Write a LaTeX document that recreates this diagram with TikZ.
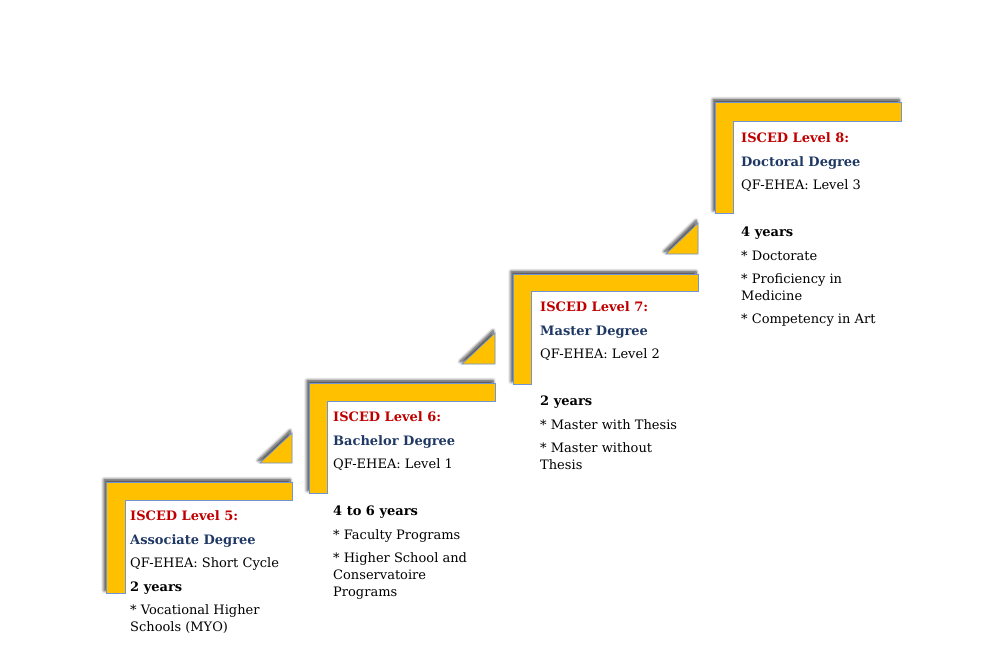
\documentclass[tikz,border=0pt]{standalone}
\usepackage{fontspec}
\setmainfont{DejaVu Serif}
\usetikzlibrary{shadows.blur}
\definecolor{gold}{HTML}{FFC000}
\definecolor{edgeblue}{HTML}{7094D4}
\definecolor{isred}{HTML}{C00000}
\definecolor{degblue}{HTML}{1F3864}
\tikzset{
  stair/.style={fill=gold, draw=edgeblue, line width=0.8pt,
    blur shadow={shadow xshift=-2pt, shadow yshift=2.5pt, shadow blur radius=3pt, shadow opacity=75, shadow blur steps=8}},
  txt/.style={anchor=base west, inner sep=0pt, font=\fontsize{13}{15}\selectfont, text=black},
  lvl/.style={txt, font=\fontsize{13}{15}\selectfont\bfseries, text=isred},
  deg/.style={txt, font=\fontsize{13}{15}\selectfont\bfseries, text=degblue},
  yrs/.style={txt, font=\fontsize{13}{15}\selectfont\bfseries},
}
\begin{document}
\begin{tikzpicture}[x=1pt,y=-1pt]
\useasboundingbox (0,0) rectangle (1007,646);
% stairs
\path[stair] (106,482) -- (292,482) -- (292,500) -- (125,500) -- (125,593) -- (106,593) -- cycle;
\path[stair] (309,383) -- (495,383) -- (495,401) -- (327,401) -- (327,493) -- (309,493) -- cycle;
\path[stair] (513,274) -- (698,274) -- (698,291) -- (531,291) -- (531,384) -- (513,384) -- cycle;
\path[stair] (715,102) -- (901,102) -- (901,121) -- (733,121) -- (733,213) -- (715,213) -- cycle;
% triangles
\path[stair] (260,463) -- (292,463) -- (292,433) -- cycle;
\path[stair] (462,364) -- (495,364) -- (495,333) -- cycle;
\path[stair] (666,254) -- (698,254) -- (698,223) -- cycle;
% level 5
\node[lvl] (l5a) at (130,520) {ISCED Level 5:};
\node[deg] (l5b) at (130,544) {Associate Degree};
\node[txt] (l5c) at (130,567) {QF-EHEA: Short Cycle};
\node[yrs] (l5d) at (130,591) {2 years};
\node[txt] (l5e) at (130,614) {* Vocational Higher};
\node[txt] (l5f) at (130,631) {Schools (MYO)};
% level 6
\node[lvl] (l6a) at (333,421) {ISCED Level 6:};
\node[deg] (l6b) at (333,445) {Bachelor Degree};
\node[txt] (l6c) at (333,468) {QF-EHEA: Level 1};
\node[yrs] (l6d) at (333,515) {4 to 6 years};
\node[txt] (l6e) at (333,539) {* Faculty Programs};
\node[txt] (l6f) at (333,562) {* Higher School and};
\node[txt] (l6g) at (333,579) {Conservatoire};
\node[txt] (l6h) at (333,596) {Programs};
% level 7
\node[lvl] (l7a) at (540,311) {ISCED Level 7:};
\node[deg] (l7b) at (540,335) {Master Degree};
\node[txt] (l7c) at (540,358) {QF-EHEA: Level 2};
\node[yrs] (l7d) at (540,405) {2 years};
\node[txt] (l7e) at (540,429) {* Master with Thesis};
\node[txt] (l7f) at (540,452) {* Master without};
\node[txt] (l7g) at (540,469) {Thesis};
% level 8
\node[lvl] (l8a) at (741,142) {ISCED Level 8:};
\node[deg] (l8b) at (741,166) {Doctoral Degree};
\node[txt] (l8c) at (741,189) {QF-EHEA: Level 3};
\node[yrs] (l8d) at (741,236) {4 years};
\node[txt] (l8e) at (741,260) {* Doctorate};
\node[txt] (l8f) at (741,283) {* Proficiency in};
\node[txt] (l8g) at (741,300) {Medicine};
\node[txt] (l8h) at (741,323) {* Competency in Art};
\end{tikzpicture}
\end{document}
